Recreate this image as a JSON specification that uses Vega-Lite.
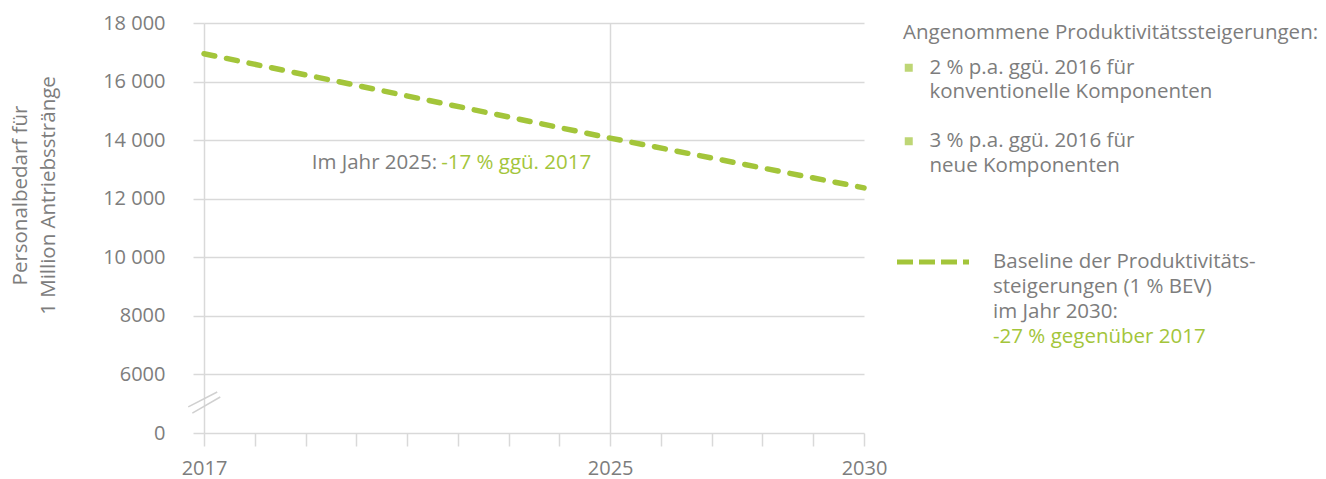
{
  "$schema": "https://vega.github.io/schema/vega-lite/v6.json",
  "width": 660,
  "height": 410,
  "autosize": {"type": "none"},
  "padding": {"left": 204, "top": 23, "right": 462, "bottom": 46},
  "background": "#ffffff",
  "config": {
    "view": {"stroke": null},
    "font": "Open Sans",
    "legend": {"padding": 0, "labelLimit": 600, "titleLimit": 700}
  },
  "data": {"values": [
    {"year": 2017, "value": 16950},
    {"year": 2025, "value": 14070},
    {"year": 2030, "value": 12370}
  ]},
  "encoding": {
    "x": {
      "field": "year", "type": "quantitative",
      "scale": {"domain": [2017, 2030], "nice": false, "zero": false},
      "axis": {
        "title": null,
        "values": [2017, 2018, 2019, 2020, 2021, 2022, 2023, 2024, 2025, 2026, 2027, 2028, 2029, 2030],
        "labelExpr": "datum.value === 2017 || datum.value === 2025 || datum.value === 2030 ? format(datum.value, 'd') : ''",
        "labelOverlap": false, "labelFlush": false,
        "labelFontSize": 20, "labelColor": "#7d7d7d", "labelPadding": 12,
        "domain": false,
        "ticks": true, "tickSize": 13, "tickColor": "#d9d9d9", "tickWidth": 1.5,
        "grid": true, "gridColor": "#d9d9d9", "gridWidth": 1.5,
        "gridOpacity": {"condition": {"test": "datum.value === 2017 || datum.value === 2025", "value": 1}, "value": 0}
      }
    },
    "y": {
      "field": "value", "type": "quantitative",
      "scale": {"domain": [4000, 18000], "nice": false, "zero": false},
      "axis": {
        "values": [4000, 6000, 8000, 10000, 12000, 14000, 16000, 18000],
        "labelExpr": "datum.value === 4000 ? '0' : datum.value >= 10000 ? replace(format(datum.value, ','), ',', ' ') : format(datum.value, 'd')",
        "labelFontSize": 20, "labelColor": "#7d7d7d", "labelPadding": 28,
        "domain": false,
        "tickSize": 11, "tickColor": "#d9d9d9", "tickWidth": 1.5,
        "grid": true, "gridColor": "#d9d9d9", "gridWidth": 1.5,
        "title": ["Personalbedarf für", "1 Million Antriebsstränge"],
        "titleFontSize": 20.5, "titleFontWeight": "normal", "titleColor": "#7d7d7d",
        "titleLineHeight": 28.5, "titleBaseline": "alphabetic", "titleAlign": "center",
        "titleAngle": 270, "titleX": -178, "titleY": 172
      }
    }
  },
  "layer": [
    {
      "data": {"values": [
        {"year": 2016.69, "value": 4890, "year2": 2017.26, "value2": 5400},
        {"year": 2016.77, "value": 4680, "year2": 2017.32, "value2": 5230}
      ]},
      "mark": {"type": "rule", "color": "#d0d0d0", "strokeWidth": 1.5},
      "encoding": {"x2": {"field": "year2"}, "y2": {"field": "value2"}}
    },
    {
      "mark": {"type": "line", "strokeWidth": 5.5, "strokeCap": "round", "strokeDash": [11, 12]},
      "encoding": {
        "stroke": {
          "datum": "Baseline der Produktivitäts-", "type": "nominal",
          "scale": {
            "domain": ["Baseline der Produktivitäts-", "steigerungen (1 % BEV)", "im Jahr 2030:"],
            "range": ["#a3c53a", "rgba(0,0,0,0)", "rgba(0,0,0,0)"]
          },
          "legend": {
            "orient": "none", "legendX": 693, "legendY": 227.5, "title": null,
            "symbolType": "M-4,0H4", "symbolSize": 324, "symbolStrokeWidth": 5, "symbolOffset": 24.5,
            "symbolDash": [16, 6],
            "labelOffset": 48.5, "labelFontSize": 20.5, "labelColor": "#7d7d7d", "rowPadding": 3
          }
        }
      }
    },
    {
      "data": {"values": [
        {"annahme": "2 % p.a. ggü. 2016 für"},
        {"annahme": "3 % p.a. ggü. 2016 für"}
      ]},
      "mark": {"type": "square", "size": 64},
      "encoding": {
        "color": {
          "field": "annahme", "type": "nominal",
          "scale": {
            "domain": ["2 % p.a. ggü. 2016 für", "konventionelle Komponenten", " ", "3 % p.a. ggü. 2016 für", "neue Komponenten"],
            "range": ["#a3c53a", "rgba(0,0,0,0)", "rgba(0,0,0,0)", "#a3c53a", "rgba(0,0,0,0)"]
          },
          "legend": {
            "orient": "none", "legendX": 699, "legendY": 0,
            "title": "Angenommene Produktivitätssteigerungen:",
            "titleFontSize": 20.5, "titleFontWeight": "normal", "titleColor": "#7d7d7d", "titlePadding": 14,
            "symbolType": "square", "symbolSize": 64, "symbolStrokeWidth": 0, "symbolOffset": -4.5,
            "labelOffset": 10.5, "labelFontSize": 20.5, "labelColor": "#7d7d7d", "rowPadding": 3.5
          }
        }
      }
    },
    {
      "data": {"values": [
        {"vergleich": "-27 % gegenüber 2017"}
      ]},
      "mark": {"type": "square", "size": 64, "strokeWidth": 0},
      "encoding": {
        "fill": {
          "field": "vergleich", "type": "nominal",
          "scale": {"domain": ["-27 % gegenüber 2017"], "range": ["rgba(0,0,0,0)"]},
          "legend": {
            "orient": "none", "legendX": 693, "legendY": 302.5, "title": null,
            "symbolType": "M-4,0H4", "symbolSize": 324, "symbolStrokeWidth": 5, "symbolOffset": 24.5,
            "symbolStrokeColor": "rgba(0,0,0,0)",
            "labelOffset": 48.5, "labelFontSize": 20.5, "labelColor": "#a3c53a", "rowPadding": 3
          }
        }
      }
    },
    {
      "transform": [{"filter": "datum.year === 2025"}],
      "mark": {"type": "text", "text": "Im Jahr 2025:", "align": "right", "baseline": "alphabetic", "dx": -173, "dy": 31.4, "fontSize": 20.5, "color": "#7d7d7d"}
    },
    {
      "transform": [{"filter": "datum.year === 2025"}],
      "mark": {"type": "text", "text": "-17 % ggü. 2017", "align": "left", "baseline": "alphabetic", "dx": -169, "dy": 31.4, "fontSize": 20.5, "color": "#a3c53a"}
    }
  ]
}
